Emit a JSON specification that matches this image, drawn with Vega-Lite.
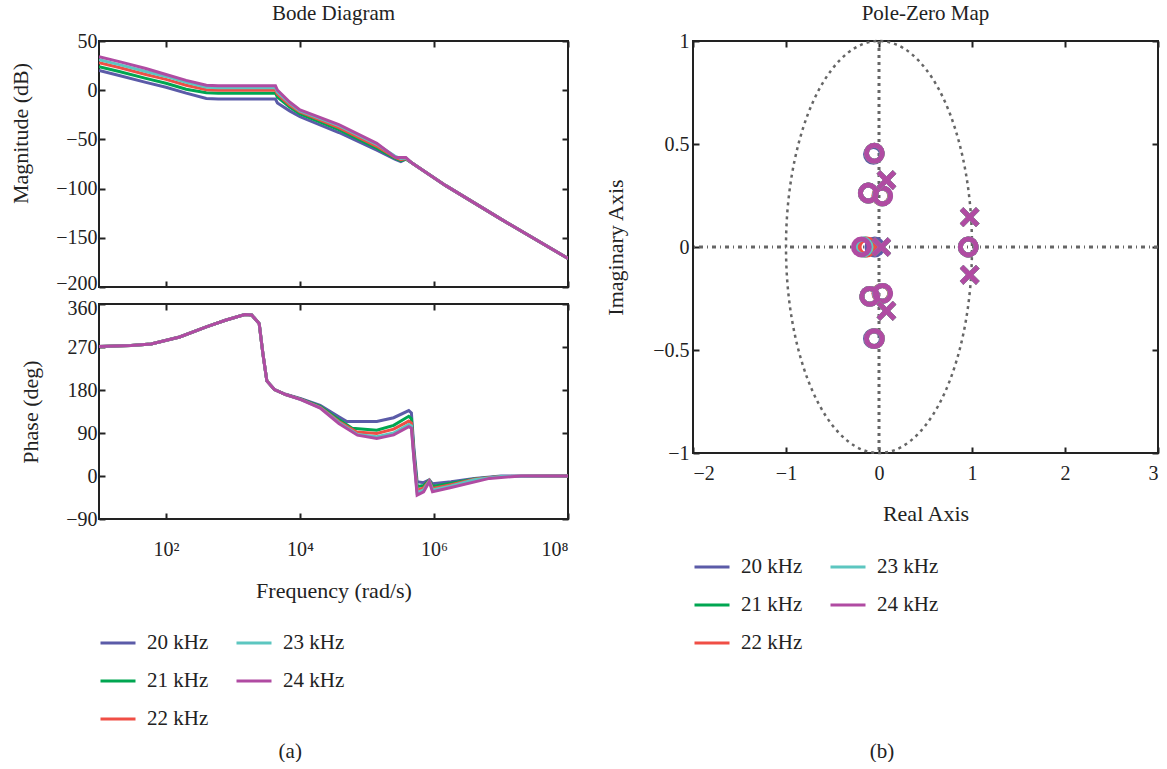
{
  "$schema": "https://vega.github.io/schema/vega-lite/v6.json",
  "background": "white",
  "padding": {"left": 8, "top": 2, "right": 0, "bottom": 0},
  "datasets": {
    "mag": [
      {"s":"20 kHz","f":10,"v":20},{"s":"20 kHz","f":20,"v":15},{"s":"20 kHz","f":50,"v":8},{"s":"20 kHz","f":100,"v":3},{"s":"20 kHz","f":200,"v":-3},{"s":"20 kHz","f":400,"v":-8.5},{"s":"20 kHz","f":600,"v":-9},{"s":"20 kHz","f":4300,"v":-9},{"s":"20 kHz","f":4600,"v":-13},{"s":"20 kHz","f":7000,"v":-21},{"s":"20 kHz","f":10000,"v":-27},{"s":"20 kHz","f":38000,"v":-43},{"s":"20 kHz","f":140000,"v":-61},{"s":"20 kHz","f":260000,"v":-70},{"s":"20 kHz","f":320000,"v":-72.5},{"s":"20 kHz","f":380000,"v":-70},{"s":"20 kHz","f":470000,"v":-74},{"s":"20 kHz","f":1500000,"v":-97},{"s":"20 kHz","f":10000000,"v":-131},{"s":"20 kHz","f":100000000,"v":-171},
      {"s":"21 kHz","f":10,"v":24},{"s":"21 kHz","f":20,"v":19},{"s":"21 kHz","f":50,"v":12},{"s":"21 kHz","f":100,"v":7},{"s":"21 kHz","f":200,"v":1},{"s":"21 kHz","f":400,"v":-2.5},{"s":"21 kHz","f":600,"v":-3},{"s":"21 kHz","f":4300,"v":-3},{"s":"21 kHz","f":4600,"v":-7},{"s":"21 kHz","f":7000,"v":-17},{"s":"21 kHz","f":10000,"v":-24},{"s":"21 kHz","f":38000,"v":-40},{"s":"21 kHz","f":140000,"v":-59},{"s":"21 kHz","f":260000,"v":-69},{"s":"21 kHz","f":320000,"v":-71.5},{"s":"21 kHz","f":380000,"v":-70},{"s":"21 kHz","f":470000,"v":-74},{"s":"21 kHz","f":1500000,"v":-97},{"s":"21 kHz","f":10000000,"v":-131},{"s":"21 kHz","f":100000000,"v":-171},
      {"s":"22 kHz","f":10,"v":28},{"s":"22 kHz","f":20,"v":23},{"s":"22 kHz","f":50,"v":16},{"s":"22 kHz","f":100,"v":11},{"s":"22 kHz","f":200,"v":5},{"s":"22 kHz","f":400,"v":0.5},{"s":"22 kHz","f":600,"v":0},{"s":"22 kHz","f":4300,"v":0},{"s":"22 kHz","f":4600,"v":-4},{"s":"22 kHz","f":7000,"v":-15},{"s":"22 kHz","f":10000,"v":-22},{"s":"22 kHz","f":38000,"v":-38},{"s":"22 kHz","f":140000,"v":-57},{"s":"22 kHz","f":260000,"v":-68},{"s":"22 kHz","f":320000,"v":-70.5},{"s":"22 kHz","f":380000,"v":-69.5},{"s":"22 kHz","f":470000,"v":-74},{"s":"22 kHz","f":1500000,"v":-97},{"s":"22 kHz","f":10000000,"v":-131},{"s":"22 kHz","f":100000000,"v":-171},
      {"s":"23 kHz","f":10,"v":31},{"s":"23 kHz","f":20,"v":26},{"s":"23 kHz","f":50,"v":19},{"s":"23 kHz","f":100,"v":14},{"s":"23 kHz","f":200,"v":8},{"s":"23 kHz","f":400,"v":3},{"s":"23 kHz","f":600,"v":2.5},{"s":"23 kHz","f":4300,"v":2.5},{"s":"23 kHz","f":4600,"v":-2},{"s":"23 kHz","f":7000,"v":-13},{"s":"23 kHz","f":10000,"v":-21},{"s":"23 kHz","f":38000,"v":-36},{"s":"23 kHz","f":140000,"v":-55},{"s":"23 kHz","f":260000,"v":-67},{"s":"23 kHz","f":320000,"v":-69.5},{"s":"23 kHz","f":380000,"v":-69},{"s":"23 kHz","f":470000,"v":-74},{"s":"23 kHz","f":1500000,"v":-97},{"s":"23 kHz","f":10000000,"v":-131},{"s":"23 kHz","f":100000000,"v":-171},
      {"s":"24 kHz","f":10,"v":34},{"s":"24 kHz","f":20,"v":29},{"s":"24 kHz","f":50,"v":22},{"s":"24 kHz","f":100,"v":16},{"s":"24 kHz","f":200,"v":10},{"s":"24 kHz","f":400,"v":5},{"s":"24 kHz","f":600,"v":4.5},{"s":"24 kHz","f":4300,"v":4.5},{"s":"24 kHz","f":4600,"v":0},{"s":"24 kHz","f":7000,"v":-12},{"s":"24 kHz","f":10000,"v":-20},{"s":"24 kHz","f":38000,"v":-35},{"s":"24 kHz","f":140000,"v":-54},{"s":"24 kHz","f":240000,"v":-66},{"s":"24 kHz","f":270000,"v":-68.5},{"s":"24 kHz","f":380000,"v":-68.5},{"s":"24 kHz","f":470000,"v":-74},{"s":"24 kHz","f":1500000,"v":-97},{"s":"24 kHz","f":10000000,"v":-131},{"s":"24 kHz","f":100000000,"v":-171}
    ],
    "phase": [
      {"s":"20 kHz","f":10,"v":271},{"s":"20 kHz","f":30,"v":273},{"s":"20 kHz","f":60,"v":276.5},{"s":"20 kHz","f":160,"v":291},{"s":"20 kHz","f":400,"v":312},{"s":"20 kHz","f":770,"v":326},{"s":"20 kHz","f":1500,"v":338},{"s":"20 kHz","f":1900,"v":337},{"s":"20 kHz","f":2460,"v":319},{"s":"20 kHz","f":2800,"v":255},{"s":"20 kHz","f":3200,"v":199},{"s":"20 kHz","f":4150,"v":181},{"s":"20 kHz","f":6100,"v":171},{"s":"20 kHz","f":10300,"v":162},{"s":"20 kHz","f":20000,"v":148},{"s":"20 kHz","f":38000,"v":124},{"s":"20 kHz","f":50000,"v":114},{"s":"20 kHz","f":140000,"v":114},{"s":"20 kHz","f":250000,"v":122},{"s":"20 kHz","f":420000,"v":137},{"s":"20 kHz","f":460000,"v":132},{"s":"20 kHz","f":500000,"v":60},{"s":"20 kHz","f":560000,"v":-12},{"s":"20 kHz","f":700000,"v":-14},{"s":"20 kHz","f":850000,"v":-8},{"s":"20 kHz","f":950000,"v":-16},{"s":"20 kHz","f":1800000,"v":-12},{"s":"20 kHz","f":4000000,"v":-5},{"s":"20 kHz","f":10000000,"v":0},{"s":"20 kHz","f":100000000,"v":0},
      {"s":"21 kHz","f":10,"v":271},{"s":"21 kHz","f":30,"v":273},{"s":"21 kHz","f":60,"v":276.5},{"s":"21 kHz","f":160,"v":291},{"s":"21 kHz","f":400,"v":312},{"s":"21 kHz","f":770,"v":326},{"s":"21 kHz","f":1500,"v":338},{"s":"21 kHz","f":1900,"v":337},{"s":"21 kHz","f":2460,"v":319},{"s":"21 kHz","f":2800,"v":255},{"s":"21 kHz","f":3200,"v":199},{"s":"21 kHz","f":4150,"v":181},{"s":"21 kHz","f":6100,"v":170.5},{"s":"21 kHz","f":10300,"v":161},{"s":"21 kHz","f":20000,"v":146},{"s":"21 kHz","f":38000,"v":118},{"s":"21 kHz","f":60000,"v":100},{"s":"21 kHz","f":140000,"v":96},{"s":"21 kHz","f":250000,"v":106},{"s":"21 kHz","f":420000,"v":125},{"s":"21 kHz","f":460000,"v":120},{"s":"21 kHz","f":500000,"v":50},{"s":"21 kHz","f":560000,"v":-22},{"s":"21 kHz","f":700000,"v":-20},{"s":"21 kHz","f":850000,"v":-9},{"s":"21 kHz","f":950000,"v":-22},{"s":"21 kHz","f":1800000,"v":-15},{"s":"21 kHz","f":4000000,"v":-6},{"s":"21 kHz","f":10000000,"v":-1},{"s":"21 kHz","f":100000000,"v":0},
      {"s":"22 kHz","f":10,"v":271},{"s":"22 kHz","f":30,"v":273},{"s":"22 kHz","f":60,"v":276.5},{"s":"22 kHz","f":160,"v":291},{"s":"22 kHz","f":400,"v":312},{"s":"22 kHz","f":770,"v":326},{"s":"22 kHz","f":1500,"v":338},{"s":"22 kHz","f":1900,"v":337},{"s":"22 kHz","f":2460,"v":319},{"s":"22 kHz","f":2800,"v":255},{"s":"22 kHz","f":3200,"v":199},{"s":"22 kHz","f":4150,"v":181},{"s":"22 kHz","f":6100,"v":170.5},{"s":"22 kHz","f":10300,"v":160.5},{"s":"22 kHz","f":20000,"v":144},{"s":"22 kHz","f":38000,"v":114},{"s":"22 kHz","f":70000,"v":92},{"s":"22 kHz","f":140000,"v":89},{"s":"22 kHz","f":250000,"v":98},{"s":"22 kHz","f":420000,"v":115},{"s":"22 kHz","f":460000,"v":111},{"s":"22 kHz","f":500000,"v":45},{"s":"22 kHz","f":560000,"v":-30},{"s":"22 kHz","f":700000,"v":-25},{"s":"22 kHz","f":850000,"v":-10},{"s":"22 kHz","f":950000,"v":-26},{"s":"22 kHz","f":1800000,"v":-18},{"s":"22 kHz","f":4000000,"v":-7},{"s":"22 kHz","f":10000000,"v":-1},{"s":"22 kHz","f":100000000,"v":0},
      {"s":"23 kHz","f":10,"v":271},{"s":"23 kHz","f":30,"v":273},{"s":"23 kHz","f":60,"v":276.5},{"s":"23 kHz","f":160,"v":291},{"s":"23 kHz","f":400,"v":312},{"s":"23 kHz","f":770,"v":326},{"s":"23 kHz","f":1500,"v":338},{"s":"23 kHz","f":1900,"v":337},{"s":"23 kHz","f":2460,"v":319},{"s":"23 kHz","f":2800,"v":255},{"s":"23 kHz","f":3200,"v":199},{"s":"23 kHz","f":4150,"v":181},{"s":"23 kHz","f":6100,"v":170.5},{"s":"23 kHz","f":10300,"v":160},{"s":"23 kHz","f":20000,"v":143},{"s":"23 kHz","f":38000,"v":112},{"s":"23 kHz","f":72000,"v":87},{"s":"23 kHz","f":140000,"v":82},{"s":"23 kHz","f":250000,"v":90},{"s":"23 kHz","f":420000,"v":108},{"s":"23 kHz","f":460000,"v":105},{"s":"23 kHz","f":500000,"v":40},{"s":"23 kHz","f":560000,"v":-35},{"s":"23 kHz","f":700000,"v":-29},{"s":"23 kHz","f":850000,"v":-11},{"s":"23 kHz","f":950000,"v":-29},{"s":"23 kHz","f":1800000,"v":-21},{"s":"23 kHz","f":4000000,"v":-8},{"s":"23 kHz","f":10000000,"v":-1},{"s":"23 kHz","f":100000000,"v":0},
      {"s":"24 kHz","f":10,"v":271},{"s":"24 kHz","f":30,"v":273},{"s":"24 kHz","f":60,"v":276.5},{"s":"24 kHz","f":160,"v":291},{"s":"24 kHz","f":400,"v":312},{"s":"24 kHz","f":770,"v":326},{"s":"24 kHz","f":1500,"v":338},{"s":"24 kHz","f":1900,"v":337},{"s":"24 kHz","f":2460,"v":319},{"s":"24 kHz","f":2800,"v":255},{"s":"24 kHz","f":3200,"v":199},{"s":"24 kHz","f":4150,"v":181},{"s":"24 kHz","f":6100,"v":170.5},{"s":"24 kHz","f":10300,"v":160},{"s":"24 kHz","f":20000,"v":142},{"s":"24 kHz","f":38000,"v":110},{"s":"24 kHz","f":72000,"v":85.5},{"s":"24 kHz","f":140000,"v":78.5},{"s":"24 kHz","f":250000,"v":86},{"s":"24 kHz","f":420000,"v":103},{"s":"24 kHz","f":460000,"v":100},{"s":"24 kHz","f":500000,"v":38},{"s":"24 kHz","f":560000,"v":-40},{"s":"24 kHz","f":700000,"v":-33},{"s":"24 kHz","f":850000,"v":-12},{"s":"24 kHz","f":950000,"v":-33},{"s":"24 kHz","f":1800000,"v":-24},{"s":"24 kHz","f":6700000,"v":-5},{"s":"24 kHz","f":20000000,"v":0},{"s":"24 kHz","f":100000000,"v":0}
    ],
    "circ": [
      {"k":0,"re":1,"im":0},{"k":1,"re":0.985,"im":0.174},{"k":2,"re":0.94,"im":0.342},{"k":3,"re":0.866,"im":0.5},{"k":4,"re":0.766,"im":0.643},{"k":5,"re":0.643,"im":0.766},{"k":6,"re":0.5,"im":0.866},{"k":7,"re":0.342,"im":0.94},{"k":8,"re":0.174,"im":0.985},{"k":9,"re":0,"im":1},
      {"k":10,"re":-0.174,"im":0.985},{"k":11,"re":-0.342,"im":0.94},{"k":12,"re":-0.5,"im":0.866},{"k":13,"re":-0.643,"im":0.766},{"k":14,"re":-0.766,"im":0.643},{"k":15,"re":-0.866,"im":0.5},{"k":16,"re":-0.94,"im":0.342},{"k":17,"re":-0.985,"im":0.174},{"k":18,"re":-1,"im":0},
      {"k":19,"re":-0.985,"im":-0.174},{"k":20,"re":-0.94,"im":-0.342},{"k":21,"re":-0.866,"im":-0.5},{"k":22,"re":-0.766,"im":-0.643},{"k":23,"re":-0.643,"im":-0.766},{"k":24,"re":-0.5,"im":-0.866},{"k":25,"re":-0.342,"im":-0.94},{"k":26,"re":-0.174,"im":-0.985},{"k":27,"re":0,"im":-1},
      {"k":28,"re":0.174,"im":-0.985},{"k":29,"re":0.342,"im":-0.94},{"k":30,"re":0.5,"im":-0.866},{"k":31,"re":0.643,"im":-0.766},{"k":32,"re":0.766,"im":-0.643},{"k":33,"re":0.866,"im":-0.5},{"k":34,"re":0.94,"im":-0.342},{"k":35,"re":0.985,"im":-0.174}
    ],
    "origin": [{"o": 0}],
    "pz": [
      {"s":"20 kHz","kind":"z","re":-0.06,"im":0.45},{"s":"20 kHz","kind":"z","re":-0.06,"im":-0.445},{"s":"20 kHz","kind":"z","re":-0.115,"im":0.262},{"s":"20 kHz","kind":"z","re":-0.1,"im":-0.24},{"s":"20 kHz","kind":"z","re":0.035,"im":0.248},{"s":"20 kHz","kind":"z","re":0.035,"im":-0.225},{"s":"20 kHz","kind":"z","re":-0.045,"im":0},{"s":"20 kHz","kind":"z","re":0.96,"im":0},
      {"s":"21 kHz","kind":"z","re":-0.05,"im":0.455},{"s":"21 kHz","kind":"z","re":-0.05,"im":-0.445},{"s":"21 kHz","kind":"z","re":-0.115,"im":0.262},{"s":"21 kHz","kind":"z","re":-0.1,"im":-0.24},{"s":"21 kHz","kind":"z","re":0.035,"im":0.248},{"s":"21 kHz","kind":"z","re":0.035,"im":-0.225},{"s":"21 kHz","kind":"z","re":-0.15,"im":0},{"s":"21 kHz","kind":"z","re":0.96,"im":0},
      {"s":"22 kHz","kind":"z","re":-0.05,"im":0.455},{"s":"22 kHz","kind":"z","re":-0.05,"im":-0.445},{"s":"22 kHz","kind":"z","re":-0.115,"im":0.262},{"s":"22 kHz","kind":"z","re":-0.1,"im":-0.24},{"s":"22 kHz","kind":"z","re":0.03,"im":0.248},{"s":"22 kHz","kind":"z","re":0.03,"im":-0.225},{"s":"22 kHz","kind":"z","re":-0.13,"im":0},{"s":"22 kHz","kind":"z","re":0.96,"im":0},
      {"s":"23 kHz","kind":"z","re":-0.05,"im":0.455},{"s":"23 kHz","kind":"z","re":-0.05,"im":-0.445},{"s":"23 kHz","kind":"z","re":-0.115,"im":0.262},{"s":"23 kHz","kind":"z","re":-0.1,"im":-0.24},{"s":"23 kHz","kind":"z","re":0.035,"im":0.248},{"s":"23 kHz","kind":"z","re":0.035,"im":-0.225},{"s":"23 kHz","kind":"z","re":-0.17,"im":0},{"s":"23 kHz","kind":"z","re":0.96,"im":0},
      {"s":"24 kHz","kind":"z","re":-0.05,"im":0.455},{"s":"24 kHz","kind":"z","re":-0.05,"im":-0.445},{"s":"24 kHz","kind":"z","re":-0.115,"im":0.262},{"s":"24 kHz","kind":"z","re":-0.1,"im":-0.24},{"s":"24 kHz","kind":"z","re":0.04,"im":0.248},{"s":"24 kHz","kind":"z","re":0.04,"im":-0.225},{"s":"24 kHz","kind":"z","re":-0.19,"im":0},{"s":"24 kHz","kind":"z","re":0.96,"im":0},
      {"s":"20 kHz","kind":"p","re":0.08,"im":0.325},{"s":"20 kHz","kind":"p","re":0.08,"im":-0.31},{"s":"20 kHz","kind":"p","re":0.025,"im":0},{"s":"20 kHz","kind":"p","re":0.975,"im":0.145},{"s":"20 kHz","kind":"p","re":0.975,"im":-0.135},
      {"s":"21 kHz","kind":"p","re":0.08,"im":0.325},{"s":"21 kHz","kind":"p","re":0.08,"im":-0.31},{"s":"21 kHz","kind":"p","re":0.025,"im":0},{"s":"21 kHz","kind":"p","re":0.975,"im":0.145},{"s":"21 kHz","kind":"p","re":0.975,"im":-0.135},
      {"s":"22 kHz","kind":"p","re":0.08,"im":0.325},{"s":"22 kHz","kind":"p","re":0.08,"im":-0.31},{"s":"22 kHz","kind":"p","re":0.025,"im":0},{"s":"22 kHz","kind":"p","re":0.975,"im":0.145},{"s":"22 kHz","kind":"p","re":0.975,"im":-0.135},
      {"s":"23 kHz","kind":"p","re":0.08,"im":0.325},{"s":"23 kHz","kind":"p","re":0.08,"im":-0.31},{"s":"23 kHz","kind":"p","re":0.025,"im":0},{"s":"23 kHz","kind":"p","re":0.975,"im":0.145},{"s":"23 kHz","kind":"p","re":0.975,"im":-0.135},
      {"s":"24 kHz","kind":"p","re":0.08,"im":0.325},{"s":"24 kHz","kind":"p","re":0.08,"im":-0.31},{"s":"24 kHz","kind":"p","re":0.025,"im":0},{"s":"24 kHz","kind":"p","re":0.975,"im":0.145},{"s":"24 kHz","kind":"p","re":0.975,"im":-0.135}
    ]
  },
  "hconcat": [
    {
      "title": {"text": "(a)", "orient": "bottom", "anchor": "middle", "offset": 12},
      "vconcat": [
        {
          "title": {"text": "Bode Diagram", "offset": 7},
          "width": 469,
          "height": 246,
          "data": {"name": "mag"},
          "layer": [
            {
              "mark": {"type": "line", "strokeWidth": 3, "clip": true},
              "encoding": {
                "x": {"field": "f", "type": "quantitative", "scale": {"type": "log", "domain": [10, 100000000], "nice": false}, "axis": {"values": [100, 10000, 1000000, 100000000], "labels": false, "title": null}},
                "y": {"field": "v", "type": "quantitative", "scale": {"domain": [-200, 50], "nice": false}, "axis": {"values": [-200, -150, -100, -50, 0, 50], "title": "Magnitude (dB)", "titleY": 92, "titlePadding": 23, "labelOffset": {"condition": {"test": "datum.value == -200", "value": -4}, "value": 0}}},
                "color": {"field": "s", "type": "nominal", "scale": {"domain": ["20 kHz", "23 kHz", "21 kHz", "24 kHz", "22 kHz"], "range": ["#5b5ba8", "#5cc6c0", "#00a651", "#b04ba2", "#f04e45"]}, "legend": {"offset": 22}}
              }
            },
            {
              "mark": {"type": "point", "opacity": 0},
              "encoding": {
                "x": {"field": "f", "type": "quantitative", "axis": {"orient": "top", "values": [100, 10000, 1000000, 100000000], "labels": false, "title": null}},
                "y": {"field": "v", "type": "quantitative", "axis": {"orient": "right", "values": [-200, -150, -100, -50, 0, 50], "labels": false, "title": null}}
              }
            }
          ],
          "resolve": {"axis": {"x": "independent", "y": "independent"}}
        },
        {
          "width": 469,
          "height": 215,
          "data": {"name": "phase"},
          "layer": [
            {
              "mark": {"type": "line", "strokeWidth": 3, "clip": true},
              "encoding": {
                "x": {"field": "f", "type": "quantitative", "scale": {"type": "log", "domain": [10, 100000000], "nice": false}, "axis": {"values": [100, 10000, 1000000, 100000000], "labelExpr": "datum.value == 100 ? '10²' : datum.value == 10000 ? '10⁴' : datum.value == 1000000 ? '10⁶' : '10⁸'", "title": "Frequency (rad/s)", "labelPadding": 26, "titlePadding": 21}},
                "y": {"field": "v", "type": "quantitative", "scale": {"domain": [-90, 360], "nice": false}, "axis": {"values": [-90, 0, 90, 180, 270, 360], "title": "Phase (deg)", "titlePadding": 23, "labelOffset": {"condition": {"test": "datum.value == 360", "value": 4}, "value": 0}}},
                "color": {"field": "s", "type": "nominal", "scale": {"domain": ["20 kHz", "23 kHz", "21 kHz", "24 kHz", "22 kHz"], "range": ["#5b5ba8", "#5cc6c0", "#00a651", "#b04ba2", "#f04e45"]}}
              }
            },
            {
              "mark": {"type": "point", "opacity": 0},
              "encoding": {
                "x": {"field": "f", "type": "quantitative", "axis": {"orient": "top", "values": [100, 10000, 1000000, 100000000], "labels": false, "title": null}},
                "y": {"field": "v", "type": "quantitative", "axis": {"orient": "right", "values": [-90, 0, 90, 180, 270, 360], "labels": false, "title": null}}
              }
            }
          ],
          "resolve": {"axis": {"x": "independent", "y": "independent"}}
        }
      ],
      "spacing": 17,
      "bounds": "flush"
    },
    {
      "title": {"text": "(b)", "orient": "bottom", "anchor": "middle", "offset": 88},
      "vconcat": [
        {
          "title": {"text": "Pole-Zero Map", "offset": 7},
          "width": 465,
          "height": 412,
          "layer": [
            {
              "data": {"name": "circ"},
              "mark": {"type": "line", "interpolate": "cardinal-closed", "stroke": "#666", "strokeWidth": 2.5, "strokeDash": [3, 4]},
              "encoding": {
                "x": {"field": "re", "type": "quantitative", "scale": {"domain": [-2, 3], "nice": false}, "axis": {"values": [-2, -1, 0, 1, 2, 3], "title": "Real Axis", "labelPadding": 16, "titlePadding": 20}},
                "y": {"field": "im", "type": "quantitative", "scale": {"domain": [-1, 1], "nice": false}, "axis": {"values": [-1, -0.5, 0, 0.5, 1], "format": "~g", "title": "Imaginary Axis", "labelPadding": 10, "titlePadding": 25}},
                "order": {"field": "k"}
              }
            },
            {
              "data": {"name": "circ"},
              "mark": {"type": "point", "opacity": 0},
              "encoding": {
                "x": {"field": "re", "type": "quantitative", "axis": {"orient": "top", "values": [-2, -1, 0, 1, 2, 3], "labels": false, "title": null}},
                "y": {"field": "im", "type": "quantitative", "axis": {"orient": "right", "values": [-1, -0.5, 0, 0.5, 1], "labels": false, "title": null}}
              }
            },
            {
              "data": {"name": "origin"},
              "mark": {"type": "rule", "stroke": "#666", "strokeWidth": 3, "strokeDash": [4, 4, 1, 4]},
              "encoding": {"y": {"field": "o", "type": "quantitative", "axis": null}}
            },
            {
              "data": {"name": "origin"},
              "mark": {"type": "rule", "stroke": "#666", "strokeWidth": 3, "strokeDash": [3, 4]},
              "encoding": {"x": {"field": "o", "type": "quantitative", "axis": null}}
            },
            {
              "data": {"name": "pz"},
              "transform": [{"filter": "datum.kind == 'z'"}],
              "mark": {"type": "point", "shape": "circle", "filled": false, "size": 250, "strokeWidth": 5, "opacity": 1},
              "encoding": {
                "x": {"field": "re", "type": "quantitative", "axis": null},
                "y": {"field": "im", "type": "quantitative", "axis": null},
                "color": {"field": "s", "type": "nominal", "scale": {"domain": ["20 kHz", "23 kHz", "21 kHz", "24 kHz", "22 kHz"], "range": ["#5b5ba8", "#5cc6c0", "#00a651", "#b04ba2", "#f04e45"]}, "legend": {"offset": 23}}
              }
            },
            {
              "data": {"name": "pz"},
              "transform": [{"filter": "datum.kind == 'p'"}],
              "mark": {"type": "point", "shape": "M-1,-1L1,1M-1,1L1,-1", "filled": false, "size": 260, "strokeWidth": 5, "opacity": 1},
              "encoding": {
                "x": {"field": "re", "type": "quantitative", "axis": null},
                "y": {"field": "im", "type": "quantitative", "axis": null},
                "color": {"field": "s", "type": "nominal"}
              }
            }
          ],
          "resolve": {"axis": {"x": "independent", "y": "independent"}}
        }
      ]
    }
  ],
  "spacing": 31,
  "resolve": {"scale": {"color": "independent"}},
  "config": {
    "font": "Liberation Serif",
    "view": {"stroke": "#222", "strokeWidth": 2},
    "axis": {"grid": false, "domain": false, "labelFont": "Liberation Serif", "labelFontSize": 20, "labelColor": "#222", "titleFont": "Liberation Serif", "titleFontSize": 22, "titleFontWeight": "normal", "titleColor": "#222", "tickColor": "#222", "tickWidth": 2, "tickSize": -6, "labelPadding": 8, "titlePadding": 18},
    "title": {"font": "Liberation Serif", "fontSize": 21, "fontWeight": "normal", "color": "#222"},
    "legend": {"orient": "bottom", "direction": "horizontal", "columns": 2, "title": null, "symbolType": "stroke", "symbolSize": 1225, "symbolStrokeWidth": 3, "labelFont": "Liberation Serif", "labelFontSize": 21, "labelColor": "#222", "labelOffset": 10, "columnPadding": 21, "rowPadding": 9}
  }
}
